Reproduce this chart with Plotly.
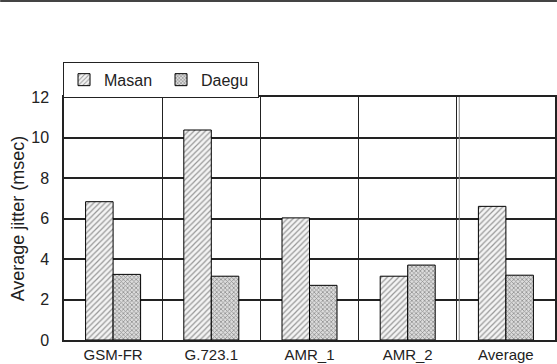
import plotly.graph_objects as go

categories = ["GSM-FR", "G.723.1", "AMR_1", "AMR_2", "Average"]
masan = [6.83, 10.37, 6.03, 3.15, 6.6]
daegu = [3.24, 3.15, 2.7, 3.7, 3.2]
yticks = [0, 2, 4, 6, 8, 10, 12]

fig = go.Figure()
fig.add_trace(go.Bar(
    name="Masan", x=categories, y=masan,
    marker=dict(color="#f4f4f4", line=dict(color="black", width=1),
                pattern=dict(shape="/", fgcolor="#3a3a3a", size=4, solidity=0.3)),
))
fig.add_trace(go.Bar(
    name="Daegu", x=categories, y=daegu,
    marker=dict(color="#dcdcdc", line=dict(color="black", width=1),
                pattern=dict(shape="x", fgcolor="#444444", size=3, solidity=0.45)),
))

font = "Liberation Sans, Arial, sans-serif"
fig.update_layout(
    width=557, height=364,
    margin=dict(l=64, r=2, t=97, b=24),
    paper_bgcolor="white", plot_bgcolor="white",
    barmode="group", bargap=0.44, bargroupgap=0,
    font=dict(family=font, size=16, color="#222222"),
    legend=dict(orientation="h", x=-0.002, y=1.145, xanchor="left", yanchor="top",
                bordercolor="#222222", borderwidth=1, font=dict(size=16),
                itemwidth=30, entrywidth=52, entrywidthmode="pixels", tracegroupgap=0),
    showlegend=True,
)
fig.update_xaxes(
    tickson="boundaries", showgrid=True, gridcolor="#222222", gridwidth=1,
    showline=True, linecolor="#222222", linewidth=1.5, mirror=True,
    ticks="", tickfont=dict(size=15), ticklabelstandoff=0, automargin=False,
)
fig.update_yaxes(
    range=[0, 12], tickvals=yticks, showgrid=True, gridcolor="#222222", gridwidth=1.5,
    showline=True, linecolor="#222222", linewidth=1.5, mirror=True,
    ticks="", tickfont=dict(size=16), zeroline=False, ticklabelstandoff=10,
    automargin=False,
    title=dict(text="Average jitter (msec)", font=dict(size=18), standoff=2),
)
# double line at the Average boundary
n = len(categories)
fig.add_shape(type="line", xref="x", yref="paper", x0=n - 1.5 + 0.025, x1=n - 1.5 + 0.025,
              y0=0, y1=1, line=dict(color="#888888", width=1))
# table border remnant at the top of the image
fig.add_shape(type="line", xref="paper", yref="paper", x0=-0.13, x1=1.004, y0=1.395, y1=1.395,
              line=dict(color="#444444", width=2))
fig.write_html("out.html")
